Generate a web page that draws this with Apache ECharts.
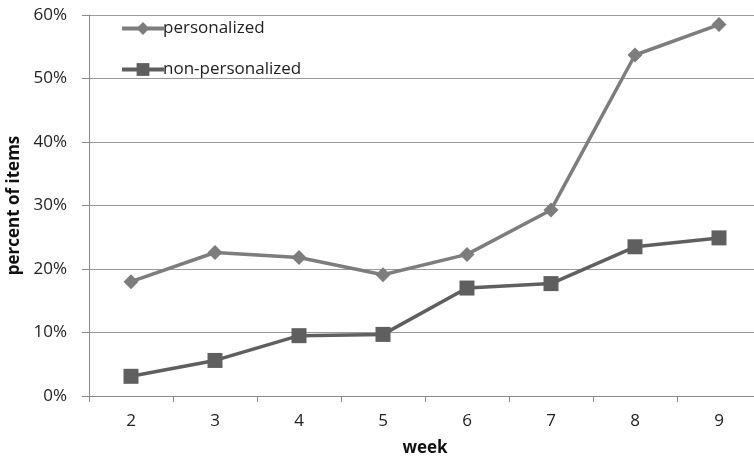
<!DOCTYPE html>
<html>
<head>
<meta charset="utf-8">
<script src="https://cdn.jsdelivr.net/npm/echarts@6/dist/echarts.min.js"></script>
<style>html,body{margin:0;padding:0;background:#fff;}#c{width:754px;height:459px;}</style>
</head>
<body>
<div id="c"></div>
<script>
const weeks = ['2','3','4','5','6','7','8','9'];
const personalized = [18.0, 22.6, 21.8, 19.1, 22.3, 29.3, 53.7, 58.5];
const nonPersonalized = [3.1, 5.6, 9.5, 9.7, 17.0, 17.7, 23.5, 24.9];
const seriesNames = ['personalized', 'non-personalized'];
const yTicks = [0, 10, 20, 30, 40, 50, 60];

const chart = echarts.init(document.getElementById('c'));
const font = 'Open Sans, Noto Sans, sans-serif';
chart.setOption({
  animation: false,
  backgroundColor: '#fff',
  grid: { left: 89, width: 672, top: 15, bottom: 63, outerBoundsMode: 'none', containLabel: false },
  legend: {
    orient: 'vertical', left: 115, top: 15,
    itemWidth: 42, itemHeight: 16, itemGap: 24,
    textStyle: { fontFamily: font, fontSize: 17, color: '#222', padding: [0, 0, 0, -6] },
    lineStyle: { width: 4 },
    data: seriesNames
  },
  xAxis: {
    type: 'category', data: weeks, boundaryGap: true,
    name: 'week', nameLocation: 'middle', nameGap: 44,
    nameTextStyle: { fontFamily: font, fontSize: 17, fontWeight: 'bold', color: '#111' },
    axisLine: { lineStyle: { color: '#8a8a8a', width: 1 } },
    axisTick: { show: true, length: 6, lineStyle: { color: '#8a8a8a' } },
    axisLabel: { fontFamily: font, fontSize: 17, color: '#222', margin: 17 }
  },
  yAxis: {
    type: 'value', min: 0, max: 60, interval: 10,
    name: 'percent of items', nameLocation: 'middle', nameGap: 63,
    nameTextStyle: { fontFamily: font, fontSize: 17, fontWeight: 'bold', color: '#111' },
    axisLine: { show: true, lineStyle: { color: '#8a8a8a', width: 1 } },
    axisTick: { show: true, length: 7, lineStyle: { color: '#8a8a8a' } },
    axisLabel: { fontFamily: font, fontSize: 17, color: '#222', margin: 22,
      formatter: v => yTicks.includes(v) ? v + '%' : '' },
    splitLine: { lineStyle: { color: '#9a9a9a', width: 1 } }
  },
  series: [
    {
      name: seriesNames[0], type: 'line', data: personalized,
      symbol: 'diamond', symbolSize: 15,
      lineStyle: { color: '#7d7d7d', width: 3.5 },
      itemStyle: { color: '#7d7d7d' }
    },
    {
      name: seriesNames[1], type: 'line', data: nonPersonalized,
      symbol: 'rect', symbolSize: 15,
      lineStyle: { color: '#5f5f5f', width: 3.5 },
      itemStyle: { color: '#5f5f5f' }
    }
  ]
});
</script>
</body>
</html>
